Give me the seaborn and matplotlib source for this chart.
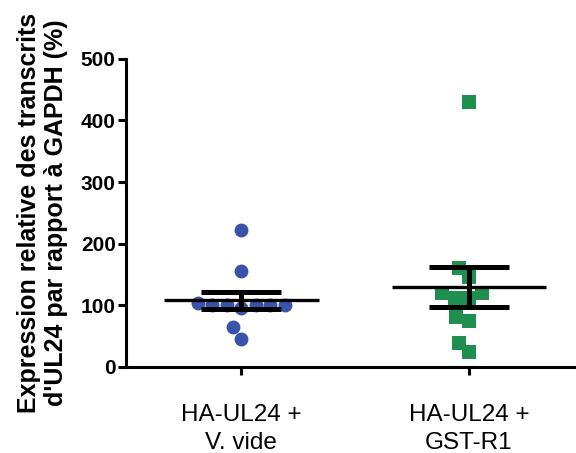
import numpy as np
import pandas as pd
import matplotlib.pyplot as plt
import seaborn as sns

# Data (expression relative, %)
groups = ["HA-UL24 +\nV. vide", "HA-UL24 +\nGST-R1"]
vide_vals = [222, 155, 100, 100, 104, 96, 101, 100, 100, 65, 46]
gst_vals = [430, 161, 146, 120, 112, 120, 112, 81, 75, 39, 24]
colors = ["#3953a9", "#1e8f4e"]
yticks = [0, 100, 200, 300, 400, 500]

df = pd.DataFrame({
    "group": [groups[0]] * len(vide_vals) + [groups[1]] * len(gst_vals),
    "value": vide_vals + gst_vals,
})

sns.set_style("ticks", {"axes.edgecolor": "black", "text.color": "black",
                        "xtick.color": "black", "ytick.color": "black",
                        "axes.labelcolor": "black"})
plt.rcParams["font.family"] = ["Liberation Sans", "DejaVu Sans"]

fig = plt.figure(figsize=(5.76, 4.53), dpi=100)
ax = fig.add_axes([0.219, 0.19, 0.781, 0.68])

# -----------------------------
# points
# -----------------------------
sns.swarmplot(data=df[df["group"] == groups[0]], x="group", y="value",
              order=groups, color=colors[0], marker="o", size=10,
              linewidth=0, ax=ax, zorder=2)
sns.swarmplot(data=df[df["group"] == groups[1]], x="group", y="value",
              order=groups, color=colors[1], marker="s", size=9.5,
              linewidth=0, ax=ax, zorder=2)

# -----------------------------
# mean +/- SEM
# -----------------------------
stats = df.groupby("group", sort=False)["value"].agg(["mean", "sem"])
for i, g in enumerate(groups):
    m, se = stats.loc[g, "mean"], stats.loc[g, "sem"]
    ax.hlines(m, i - 0.34, i + 0.34, color="black", lw=2.4, zorder=3)
    ax.errorbar(i, m, yerr=se, fmt="none", ecolor="black", elinewidth=3.6,
                capsize=29, capthick=3.6, zorder=4)

# -----------------------------
# axes styling
# -----------------------------
ax.set_xlim(-0.505, 1.47)
ax.set_ylim(0, 500)
ax.set_yticks(yticks)
ax.set_yticklabels([str(t) for t in yticks], fontweight="bold", fontsize=15)
ax.tick_params(axis="x", labelsize=17.5, length=6, width=2.2, pad=21)
ax.tick_params(axis="y", length=6, width=2.2, pad=1.5)
for lab in ax.get_xticklabels():
    lab.set_linespacing(1.3)
ax.set_xlabel("")
ax.set_ylabel("Expression relative des transcrits\nd'UL24 par rapport à GAPDH (%)",
              fontweight="bold", fontsize=18, linespacing=1.16)
ax.yaxis.set_label_coords(-0.13, 0.5)
sns.despine(ax=ax)
for s in ["left", "bottom"]:
    ax.spines[s].set_linewidth(2.2)

fig.savefig("out.png", dpi=100)
